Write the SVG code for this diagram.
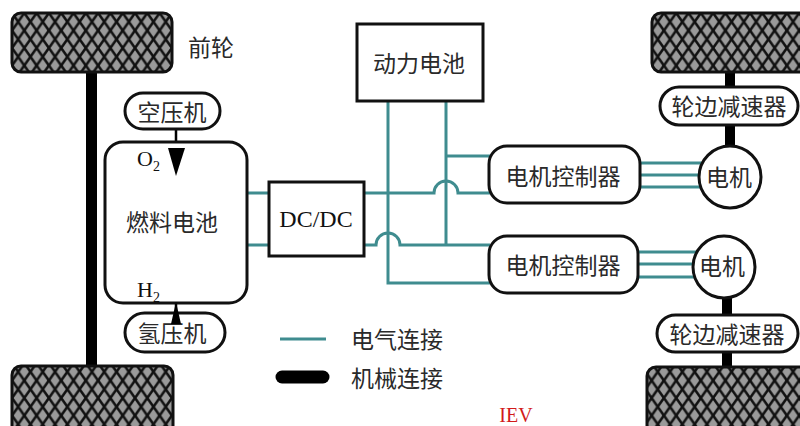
<svg xmlns="http://www.w3.org/2000/svg" width="800" height="426" viewBox="0 0 800 426">
  <style>
    .node { fill: #fff; stroke: #111; stroke-width: 3; }
    .cn { font-family: "Noto Sans CJK SC", "Noto Sans", sans-serif; font-size: 23px; fill: #2a2a2a; text-anchor: middle; dominant-baseline: central; }
    .serif { font-family: "Liberation Serif", serif; fill: #111; }
    .wire { fill: none; stroke: #3f8c8f; stroke-width: 3; }
    .axle { fill: #000; }
    .wheel { fill: url(#tread); stroke: #111; stroke-width: 3; }
    .feed { fill: #000; }
  </style>
  <defs>
    <!-- diamond tread pattern for the tyres -->
    <pattern id="tread" patternUnits="userSpaceOnUse" x="12" y="13" width="12.3" height="17.5">
      <rect width="12.3" height="17.5" fill="#9a9a9a"/>
      <path d="M0,0 L12.3,17.5 M12.3,0 L0,17.5" stroke="#111" stroke-width="2.6"/>
    </pattern>
  </defs>

  <rect width="800" height="426" fill="#fff"/>

  <!-- mechanical links -->
  <g id="axles">
    <rect class="axle" x="86" y="70" width="11" height="300"/>
    <rect class="axle" x="725" y="70" width="10" height="18"/>
    <rect class="axle" x="725" y="124" width="10" height="25"/>
    <rect class="axle" x="722" y="295" width="10" height="22"/>
    <rect class="axle" x="722" y="350" width="10" height="19"/>
  </g>

  <!-- wheels -->
  <g id="wheel-front-left"><rect class="wheel" x="12" y="13" width="160" height="59" rx="9"/></g>
  <g id="wheel-rear-left"><rect class="wheel" x="12" y="366" width="161" height="70" rx="9"/></g>
  <g id="wheel-front-right"><rect class="wheel" x="652" y="13" width="160" height="59" rx="9"/></g>
  <g id="wheel-rear-right"><rect class="wheel" x="647" y="367" width="165" height="70" rx="9"/></g>

  <text class="cn" x="211" y="46">前轮</text>

  <!-- electrical connections -->
  <g id="connectors">
    <!-- fuel cell to DC/DC -->
    <path class="wire" d="M246,193 H270 M246,245 H270"/>
    <!-- DC/DC upper output to controller 1, hopping the battery lead -->
    <path class="wire" d="M363,193 H434 A12,12 0 0 1 458,193 H490"/>
    <!-- DC/DC lower output to controller 2, hopping the battery lead -->
    <path class="wire" d="M363,245 H376 A12,12 0 0 1 400,245 H490"/>
    <!-- battery leads -->
    <path class="wire" d="M388,101 V283 H490"/>
    <path class="wire" d="M446,101 V245 M446,156 H492"/>
    <!-- controller 1 to motor 1 -->
    <path class="wire" d="M638,163 H705 M638,175 H705 M638,187 H705"/>
    <!-- controller 2 to motor 2 -->
    <path class="wire" d="M636,252 H700 M636,264 H700 M636,277 H700"/>
    <!-- gas feed lines -->
    <path d="M176,127 V150 M176,302 V315" stroke="#000" stroke-width="2.5"/>
  </g>

  <g id="air-compressor">
    <rect class="node" x="125" y="93" width="95" height="36" rx="18"/>
    <text class="cn" x="172" y="111">空压机</text>
  </g>

  <g id="fuel-cell">
    <rect class="node" x="105" y="142" width="142" height="161" rx="18"/>
    <text class="cn" x="172" y="221">燃料电池</text>
    <text class="serif" x="137" y="166" font-size="22">O<tspan font-size="14" dy="5">2</tspan></text>
    <text class="serif" x="137" y="297" font-size="22">H<tspan font-size="14" dy="5">2</tspan></text>
  </g>

  <g id="hydrogen-compressor">
    <rect class="node" x="125" y="313" width="100" height="39" rx="19.5"/>
    <text class="cn" x="172" y="332">氢压机</text>
  </g>

  <!-- gas feed arrowheads, drawn over the node fills -->
  <g id="gas-feeds">
    <path class="feed" d="M168,148 L185,148 L176,176 Z"/>
    <path class="feed" d="M176,302 L181,324 L171,324 Z"/>
  </g>

  <g id="dcdc">
    <rect class="node" x="269" y="182" width="95" height="74" stroke-width="3.5"/>
    <text class="serif" x="316" y="227" font-size="24" text-anchor="middle">DC/DC</text>
  </g>

  <g id="battery">
    <rect class="node" x="357" y="24" width="126" height="77"/>
    <text class="cn" x="419" y="62">动力电池</text>
  </g>

  <g id="controller-1">
    <rect class="node" x="489" y="146" width="151" height="57" rx="18"/>
    <text class="cn" x="563" y="175">电机控制器</text>
  </g>
  <g id="controller-2">
    <rect class="node" x="489" y="236" width="149" height="57" rx="18"/>
    <text class="cn" x="563" y="264">电机控制器</text>
  </g>

  <g id="motor-1">
    <circle class="node" cx="730" cy="177" r="31"/>
    <text class="cn" x="729" y="176">电机</text>
  </g>
  <g id="motor-2">
    <circle class="node" cx="724" cy="267" r="31"/>
    <text class="cn" x="722" y="265">电机</text>
  </g>

  <g id="reducer-front">
    <rect class="node" x="660" y="87" width="138" height="38" rx="19"/>
    <text class="cn" x="729" y="105">轮边减速器</text>
  </g>
  <g id="reducer-rear">
    <rect class="node" x="657" y="315" width="141" height="37" rx="18.5"/>
    <text class="cn" x="727" y="333">轮边减速器</text>
  </g>

  <!-- legend -->
  <g id="legend">
    <line x1="280" y1="339" x2="326" y2="339" stroke="#3f8c8f" stroke-width="3"/>
    <text class="cn" x="397" y="338">电气连接</text>
    <line x1="282" y1="377" x2="323" y2="377" stroke="#000" stroke-width="13" stroke-linecap="round"/>
    <text class="cn" x="397" y="377">机械连接</text>
  </g>

  <text class="serif" x="516" y="422" font-size="20" text-anchor="middle" style="fill:#d21a1a">IEV</text>
</svg>
